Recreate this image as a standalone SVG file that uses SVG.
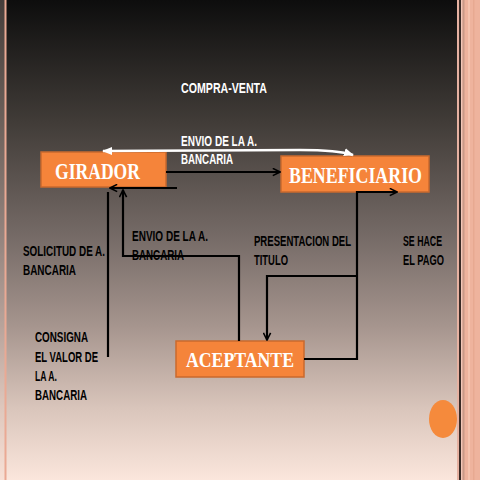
<svg xmlns="http://www.w3.org/2000/svg" width="480" height="480" viewBox="0 0 480 480">
<defs>
<linearGradient id="bg" x1="0" y1="0" x2="0" y2="1">
<stop offset="0" stop-color="#0d0d0d"/>
<stop offset="0.25" stop-color="#403b37"/>
<stop offset="0.5" stop-color="#776c68"/>
<stop offset="0.68" stop-color="#a6958e"/>
<stop offset="0.85" stop-color="#d9c5bb"/>
<stop offset="1" stop-color="#fbe6dc"/>
</linearGradient>
<marker id="open" viewBox="0 0 10 10" refX="9" refY="5" markerWidth="9" markerHeight="9" markerUnits="userSpaceOnUse" orient="auto">
<path d="M1,1 L9,5 L1,9" fill="none" stroke="#000" stroke-width="1.8"/>
</marker>
<marker id="white" viewBox="0 0 10 10" refX="9" refY="5" markerWidth="10" markerHeight="10" markerUnits="userSpaceOnUse" orient="auto-start-reverse">
<path d="M0,1 L10,5 L0,9 Z" fill="#fff"/>
</marker>
<style>
.box{fill:#f5843a;stroke:#c9692e;stroke-width:1.5}
.nt{font-family:"Liberation Serif","Times New Roman",serif;font-weight:bold;fill:#fff}
.lb{font-family:"Liberation Sans",Arial,sans-serif;font-weight:bold;font-size:14px;fill:#000}
.wl{fill:#fff}
.ln{fill:none;stroke:#000;stroke-width:2.2}
</style>
</defs>
<rect width="480" height="480" fill="url(#bg)"/>
<rect x="0" y="0" width="5" height="480" fill="#f1cfc2" opacity="0.25"/>
<rect x="4.5" y="0" width="2" height="480" fill="#eaa994"/>
<rect x="457" y="0" width="23" height="480" fill="#eeb39d"/>
<rect x="457" y="0" width="2" height="480" fill="#e6b2a2"/>
<rect x="459" y="0" width="2" height="480" fill="#3a2a25"/>
<rect x="461" y="0" width="1.5" height="480" fill="#f2c8b8"/>
<rect x="462.5" y="0" width="2" height="480" fill="#c99a88"/>
<rect x="468" y="0" width="2" height="480" fill="#f4c2ad"/>
<rect x="473" y="0" width="1.5" height="480" fill="#e7a991"/>

<text class="lb wl" x="181" y="93" textLength="86" lengthAdjust="spacingAndGlyphs">COMPRA-VENTA</text>

<g id="girador">
<rect class="box" x="41" y="152" width="125" height="35"/>
<text class="nt" x="55" y="179" font-size="23" textLength="85" lengthAdjust="spacingAndGlyphs">GIRADOR</text>
</g>
<g id="beneficiario">
<rect class="box" x="281" y="156" width="148" height="36"/>
<text class="nt" x="289" y="183" font-size="23" textLength="133" lengthAdjust="spacingAndGlyphs">BENEFICIARIO</text>
</g>
<g id="aceptante">
<rect class="box" x="176" y="341" width="128" height="36"/>
<text class="nt" x="186" y="367" font-size="22" textLength="108" lengthAdjust="spacingAndGlyphs">ACEPTANTE</text>
</g>

<g id="connectors">
<path d="M103,151 L300,150 Q338,150 353,155" fill="none" stroke="#fff" stroke-width="2.5" marker-start="url(#white)" marker-end="url(#white)"/>
<path class="ln" d="M166,172 H280" marker-end="url(#open)"/>
<path class="ln" d="M177,188 H110" marker-end="url(#open)"/>
<path class="ln" d="M108,357 V192"/>
<path class="ln" d="M239,341 V256 H123 V190" marker-end="url(#open)"/>
<path class="ln" d="M304,359 H357 V192 H397" marker-end="url(#open)"/>
<path class="ln" d="M357,276 H267 V340" marker-end="url(#open)"/>
</g>

<g id="labels">
<text class="lb wl" x="181" y="146" textLength="76" lengthAdjust="spacingAndGlyphs">ENVIO DE LA A.</text>
<text class="lb wl" x="181" y="164" textLength="52" lengthAdjust="spacingAndGlyphs">BANCARIA</text>
<text class="lb" x="132" y="241" textLength="76" lengthAdjust="spacingAndGlyphs">ENVIO DE LA A.</text>
<text class="lb" x="132" y="260" textLength="52" lengthAdjust="spacingAndGlyphs">BANCARIA</text>
<text class="lb" x="23" y="256" textLength="82" lengthAdjust="spacingAndGlyphs">SOLICITUD DE A.</text>
<text class="lb" x="23" y="275" textLength="53" lengthAdjust="spacingAndGlyphs">BANCARIA</text>
<text class="lb" x="254" y="246" textLength="97" lengthAdjust="spacingAndGlyphs">PRESENTACION DEL</text>
<text class="lb" x="254" y="265" textLength="34" lengthAdjust="spacingAndGlyphs">TITULO</text>
<text class="lb" x="403" y="246" textLength="39" lengthAdjust="spacingAndGlyphs">SE HACE</text>
<text class="lb" x="403" y="265" textLength="41" lengthAdjust="spacingAndGlyphs">EL PAGO</text>
<text class="lb" x="35" y="342" textLength="53" lengthAdjust="spacingAndGlyphs">CONSIGNA</text>
<text class="lb" x="35" y="362" textLength="63" lengthAdjust="spacingAndGlyphs">EL VALOR DE</text>
<text class="lb" x="35" y="381" textLength="22" lengthAdjust="spacingAndGlyphs">LA A.</text>
<text class="lb" x="35" y="400" textLength="52" lengthAdjust="spacingAndGlyphs">BANCARIA</text>
</g>

<ellipse cx="443" cy="419" rx="14" ry="19" fill="#f58a3c"/>
</svg>
